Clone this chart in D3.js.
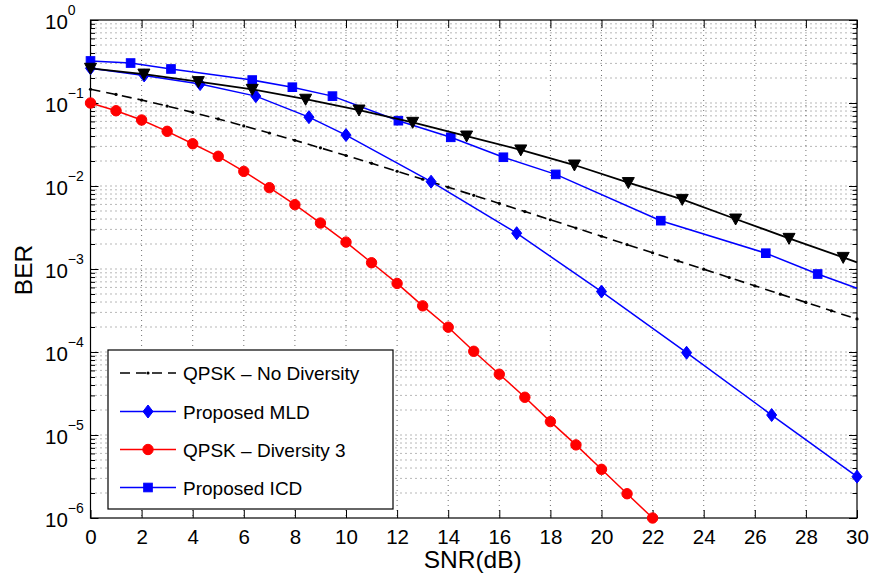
<!DOCTYPE html>
<html><head><meta charset="utf-8">
<script src="https://cdn.jsdelivr.net/npm/d3@7"></script>
<style>body{margin:0;background:#fff} text{font-family:"Liberation Sans",Arial,Helvetica,sans-serif;fill:#000}</style>
</head><body>
<svg id="chart" width="871" height="578"></svg>
<script>
// ---- data ----
const xTicks = [0,2,4,6,8,10,12,14,16,18,20,22,24,26,28,30];
const yTickExps = [0,-1,-2,-3,-4,-5,-6];

// QPSK - No Diversity (dashed, dot markers)
const snrNoDiv = [0,1,2,3,4,5,6,7,8,9,10,11,12,13,14,15,16,17,18,19,20,21,22,23,24,25,26,27,28,29,30];
const berNoDiv = [0.1464,0.1267,0.1085,0.0919,0.0771,0.0642,0.0530,0.0435,0.0355,0.0288,0.0233,0.01875,0.01505,0.01206,0.00966,0.00773,0.00617,0.00492,0.00392,0.00312,0.00248,0.00197,0.00157,0.00125,0.000995,0.00079,0.000627,0.000498,0.000396,0.000314,0.00025];

// Proposed MLD (blue diamonds)
const snrMLD = [0,2.1,4.29,6.47,8.55,10.0,13.33,16.68,20.0,23.33,26.66,30];
const berMLD = [0.262,0.215,0.169,0.121,0.0675,0.0411,0.01127,0.0027,0.000535,0.000098,0.0000174,0.00000315];

// QPSK - Diversity 3 (red circles)
const snrDiv3 = [0,1,2,3,4,5,6,7,8,9,10,11,12,13,14,15,16,17,18,19,20,21,22];
const berDiv3 = [0.1,0.0807,0.0624,0.0456,0.0323,0.0228,0.0150,0.00955,0.00596,0.00358,0.00211,0.00119,0.00067,0.00036,0.000199,0.000102,0.000054,0.0000285,0.0000145,0.0000076,0.00000386,0.00000196,0.000001];

// Proposed ICD (blue squares); last point is line end without marker
const snrICD = [0,1.57,3.15,6.33,7.90,9.47,12.05,14.10,16.16,18.21,22.32,26.43,28.46,30];
const berICD = [0.321,0.303,0.257,0.189,0.155,0.121,0.0612,0.0386,0.0222,0.0138,0.00382,0.00155,0.00087,0.000585];

// Black triangles (not in legend); last point is line end without marker
const snrTri = [0,2.09,4.22,6.33,8.42,10.51,12.61,14.72,16.84,18.94,21.05,23.16,25.25,27.34,29.46,30];
const berTri = [0.262,0.223,0.181,0.146,0.111,0.0823,0.0585,0.040,0.0272,0.0179,0.011,0.0069,0.0040,0.00234,0.00138,0.0012];

const legendLabels = ["QPSK \u2013 No Diversity","Proposed MLD","QPSK \u2013 Diversity 3","Proposed ICD"];

// ---- layout ----
const L = 90.5, R = 857, T = 20, B = 518;
const svg = d3.select("#chart");
const x = d3.scaleLinear().domain([0,30]).range([L,R]);
const y = d3.scaleLog().domain([1e-6,1]).range([B,T]);

const zip = (a,b) => a.map((v,i)=>[v,b[i]]);

// grid
const allY = y.ticks();
const grid = svg.append("g").attr("stroke","#000").attr("stroke-width",0.8).attr("stroke-dasharray","1,4").attr("opacity",0.7);
grid.selectAll("line.h").data(allY.filter(v=>v>1e-6 && v<1)).join("line")
  .attr("x1",L).attr("x2",R).attr("y1",d=>y(d)).attr("y2",d=>y(d));
grid.selectAll("line.v").data(xTicks.filter(v=>v>0 && v<30)).join("line")
  .attr("x1",d=>x(d)).attr("x2",d=>x(d)).attr("y1",T).attr("y2",B);

// axes (ticks inside)
const isMajor = v => Math.abs(Math.log10(v) - Math.round(Math.log10(v))) < 1e-9;
const minorY = allY.filter(v=>!isMajor(v));
const majorY = yTickExps.map(e=>Math.pow(10,e));

const gB = svg.append("g").attr("transform",`translate(0,${B})`)
  .call(d3.axisBottom(x).tickValues(xTicks).tickSizeInner(-8).tickSizeOuter(0).tickFormat(d3.format("d")));
gB.selectAll("text").attr("y",26).attr("dy",0).style("font-size","20.5px");
const gT = svg.append("g").attr("transform",`translate(0,${T})`)
  .call(d3.axisTop(x).tickValues(xTicks).tickSizeInner(-8).tickSizeOuter(0).tickFormat(""));
const gL = svg.append("g").attr("transform",`translate(${L},0)`)
  .call(d3.axisLeft(y).tickValues(majorY).tickSizeInner(-8).tickSizeOuter(0).tickFormat(""));
const gLm = svg.append("g").attr("transform",`translate(${L},0)`)
  .call(d3.axisLeft(y).tickValues(minorY).tickSizeInner(-4.5).tickSizeOuter(0).tickFormat(""));
const gR = svg.append("g").attr("transform",`translate(${R},0)`)
  .call(d3.axisRight(y).tickValues(majorY).tickSizeInner(-8).tickSizeOuter(0).tickFormat(""));
const gRm = svg.append("g").attr("transform",`translate(${R},0)`)
  .call(d3.axisRight(y).tickValues(minorY).tickSizeInner(-4.5).tickSizeOuter(0).tickFormat(""));
[gB,gT,gL,gLm,gR,gRm].forEach(g=>{ g.select(".domain").remove(); g.selectAll("line").attr("stroke","#000").attr("stroke-width",1); });

// y tick labels 10^e
const yl = svg.append("g").selectAll("text").data(yTickExps).join("text")
  .attr("x",45).attr("y",d=>y(Math.pow(10,d))+9).style("font-size","20.5px");
yl.append("tspan").text("10");
yl.append("tspan").attr("dy",-14).style("font-size","14px").text(d=>d===0?"0":"\u2212"+(-d));

// box
svg.append("rect").attr("x",L).attr("y",T).attr("width",R-L).attr("height",B-T)
  .attr("fill","none").attr("stroke","#000").attr("stroke-width",1.2);

// axis titles
svg.append("text").attr("x",(L+R)/2-1).attr("y",568).attr("text-anchor","middle").style("font-size","24.5px").text("SNR(dB)");
svg.append("text").attr("transform","translate(32,270) rotate(-90)").attr("text-anchor","middle").style("font-size","24.5px").text("BER");

// ---- series ----
const line = d3.line().x(d=>x(d[0])).y(d=>y(d[1]));
const plot = svg.append("g");

// marker shapes
const diamond = (g,cx,cy,c)=>g.append("path").attr("d",`M${cx},${cy-6.5}L${cx+5},${cy}L${cx},${cy+6.5}L${cx-5},${cy}Z`).attr("fill",c).attr("stroke",c);
const circle = (g,cx,cy,c)=>g.append("circle").attr("cx",cx).attr("cy",cy).attr("r",5.2).attr("fill",c).attr("stroke",c);
const square = (g,cx,cy,c)=>g.append("rect").attr("x",cx-4.3).attr("y",cy-4.3).attr("width",8.6).attr("height",8.6).attr("fill",c).attr("stroke",c);
const triDown = (g,cx,cy,c)=>g.append("path").attr("d",`M${cx-6},${cy-5}L${cx+6},${cy-5}L${cx},${cy+6}Z`).attr("fill",c).attr("stroke",c);
const dot = (g,cx,cy,c)=>g.append("circle").attr("cx",cx).attr("cy",cy).attr("r",1.6).attr("fill",c);

// No diversity
const dNo = zip(snrNoDiv,berNoDiv);
plot.append("path").datum(dNo).attr("d",line).attr("fill","none").attr("stroke","#000").attr("stroke-width",1.6).attr("stroke-dasharray","10,6");
dNo.forEach(p=>dot(plot,x(p[0]),y(p[1]),"#000"));

// MLD
const dMLD = zip(snrMLD,berMLD);
plot.append("path").datum(dMLD).attr("d",line).attr("fill","none").attr("stroke","#0000ff").attr("stroke-width",1.5);
dMLD.forEach(p=>diamond(plot,x(p[0]),y(p[1]),"#0000ff"));

// Diversity 3
const dD3 = zip(snrDiv3,berDiv3);
plot.append("path").datum(dD3).attr("d",line).attr("fill","none").attr("stroke","#ff0000").attr("stroke-width",1.5);
dD3.forEach(p=>circle(plot,x(p[0]),y(p[1]),"#ff0000"));

// ICD
const dICD = zip(snrICD,berICD);
plot.append("path").datum(dICD).attr("d",line).attr("fill","none").attr("stroke","#0000ff").attr("stroke-width",1.5);
dICD.slice(0,-1).forEach(p=>square(plot,x(p[0]),y(p[1]),"#0000ff"));

// Triangles
const dTri = zip(snrTri,berTri);
plot.append("path").datum(dTri).attr("d",line).attr("fill","none").attr("stroke","#000").attr("stroke-width",1.8);
dTri.slice(0,-1).forEach(p=>triDown(plot,x(p[0]),y(p[1]),"#000"));

// ---- legend ----
const lg = svg.append("g");
lg.append("rect").attr("x",108).attr("y",350).attr("width",285).attr("height",159).attr("fill","#fff").attr("stroke","#000").attr("stroke-width",1.2);
const rowY = [373,411.5,449.5,487.5];
const lgColors = ["#000","#0000ff","#ff0000","#0000ff"];
const lgMarkers = [null,diamond,circle,square];
legendLabels.forEach((lab,i)=>{
  const ly = rowY[i];
  const ln = lg.append("line").attr("x1",120).attr("x2",176).attr("y1",ly).attr("y2",ly).attr("stroke",lgColors[i]).attr("stroke-width",1.5);
  if(i===0){ ln.attr("stroke-dasharray","10,6"); dot(lg,148,ly,"#000"); }
  else lgMarkers[i](lg,148,ly,lgColors[i]);
  lg.append("text").attr("x",183).attr("y",ly+7).style("font-size","19px").text(lab);
});
</script>
</body></html>
